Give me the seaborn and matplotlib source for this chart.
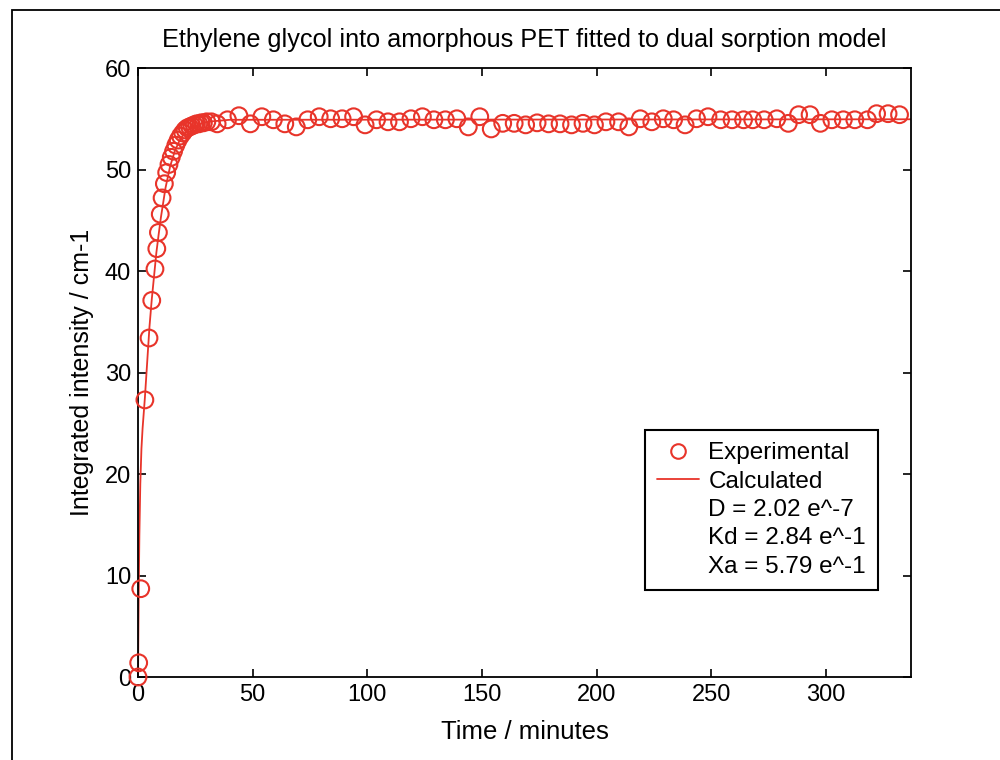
import matplotlib
matplotlib.use("Agg")
import matplotlib.pyplot as plt
import seaborn as sns
import pandas as pd
from matplotlib.lines import Line2D
from matplotlib.patches import Rectangle

# ---- data ----
exp_time = [0, 0.3, 1.2, 3.0, 4.8, 6.0, 7.4, 8.2, 8.9, 9.7, 10.5, 11.5, 12.5, 13.5,
            14.5, 15.5, 16.5, 17.5, 18.5, 19.5, 20.5, 21.5, 22.5, 23.5, 24.5, 25.5,
            26.5, 27.5, 28.5, 30, 32, 34.5,
            39, 44, 49, 54, 59, 64, 69, 74, 79, 84, 89, 94, 99, 104, 109, 114, 119,
            124, 129, 134, 139, 144, 149, 154, 159, 164, 169, 174, 179, 184, 189,
            194, 199, 204, 209.5, 214, 219, 224, 229, 233.5, 238.5, 243.5, 248.5,
            254, 259, 264, 268, 273, 278.5, 283.5, 288, 293, 297.5, 302.5, 307.5,
            312.5, 318, 322, 327, 332]
exp_intensity = [0, 1.4, 8.7, 27.3, 33.4, 37.1, 40.2, 42.2, 43.8, 45.6, 47.2, 48.6,
                 49.7, 50.5, 51.2, 51.8, 52.4, 52.9, 53.3, 53.6, 53.9, 54.1, 54.2,
                 54.3, 54.4, 54.5, 54.5, 54.6, 54.6, 54.7, 54.7, 54.5,
                 54.9, 55.3, 54.5, 55.2, 54.9, 54.5, 54.2, 54.9, 55.2, 55.0, 55.0,
                 55.2, 54.4, 54.9, 54.7, 54.7, 55.0, 55.2, 54.9, 54.9, 55.0, 54.2,
                 55.2, 54.0, 54.55, 54.55, 54.4, 54.6, 54.5, 54.5, 54.4,
                 54.55, 54.4, 54.7, 54.7, 54.2, 55.0, 54.7, 55.0, 54.9, 54.4, 55.0,
                 55.2, 54.9, 54.9, 54.9, 54.9, 54.9, 55.0, 54.55, 55.4, 55.4, 54.55,
                 54.9, 54.9, 54.9, 54.9, 55.5, 55.5, 55.4]
calc_time = [0, 0.3, 0.6, 1.0, 1.5, 2.0, 3.0, 4.0, 5.0, 6.0, 7.0, 8.0, 9.0, 10,
             12, 14, 16, 18, 20, 23, 26, 30, 35, 40, 50, 338]
calc_intensity = [0, 8, 14, 19, 22.5, 24.5, 27.5, 31, 34.5, 37.2, 39.5, 41.8, 43.6,
                  45.3, 48.2, 50.3, 51.8, 52.8, 53.5, 54.1, 54.4, 54.7, 54.8, 54.9,
                  54.9, 54.95]
x_ticks = [0, 50, 100, 150, 200, 250, 300]
y_ticks = [0, 10, 20, 30, 40, 50, 60]
legend_labels = ["Experimental", "Calculated", "D = 2.02 e^-7", "Kd = 2.84 e^-1",
                 "Xa = 5.79 e^-1"]

exp_df = pd.DataFrame({"t": exp_time, "v": exp_intensity})
calc_df = pd.DataFrame({"t": calc_time, "v": calc_intensity})

sns.set_theme(style="ticks")
plt.rcParams["font.family"] = ["Liberation Sans", "DejaVu Sans"]
plt.rcParams["text.color"] = "black"
plt.rcParams["axes.labelcolor"] = "black"
plt.rcParams["xtick.color"] = "black"
plt.rcParams["ytick.color"] = "black"

RED = "#e8342a"

fig = plt.figure(figsize=(10, 7.6), dpi=100)
ax = fig.add_axes([0.138, 0.1092, 0.773, 0.8013])

sns.lineplot(data=calc_df, x="t", y="v", ax=ax, color=RED, linewidth=1.3,
             sort=False, estimator=None, zorder=2)
sns.scatterplot(data=exp_df, x="t", y="v", ax=ax, marker="o", s=145,
                facecolors="none", edgecolor=RED, linewidth=1.5, zorder=3,
                clip_on=False)

ax.set_xlim(0, 337)
ax.set_ylim(0, 60)
ax.set_xticks(x_ticks)
ax.set_yticks(y_ticks)
ax.tick_params(direction="in", length=6, width=1.2, top=True, right=True,
               labelsize=17, colors="black", pad=5)
for sp in ax.spines.values():
    sp.set_visible(True)
    sp.set_linewidth(1.3)
    sp.set_color("black")

ax.set_xlabel("Time / minutes", fontsize=18.5, labelpad=10, color="black")
ax.set_ylabel("Integrated intensity / cm-1", fontsize=18, labelpad=8, color="black")
ax.set_title("Ethylene glycol into amorphous PET fitted to dual sorption model",
             fontsize=18.2, pad=15, color="black")

handles = [Line2D([], [], linestyle="none", marker="o", markersize=10.5,
                  markerfacecolor="none", markeredgecolor=RED, markeredgewidth=1.5),
           Line2D([], [], color=RED, linewidth=1.3),
           Line2D([], [], linestyle="none"),
           Line2D([], [], linestyle="none"),
           Line2D([], [], linestyle="none")]
leg = ax.legend(handles, legend_labels, loc="lower left",
                bbox_to_anchor=(0.656, 0.143), fontsize=17.5, frameon=True,
                fancybox=False, edgecolor="black", handlelength=1.7,
                handletextpad=0.4, labelspacing=0.26, borderpad=0.5,
                borderaxespad=0, framealpha=1)
leg.get_frame().set_linewidth(1.5)
for t in leg.get_texts():
    t.set_color("black")

fig.patches.append(Rectangle((0.012, -0.2), 1.5, 1.1868,
                             transform=fig.transFigure, fill=False,
                             edgecolor="black", linewidth=1.3))

fig.savefig("out.png", dpi=100, facecolor="white")
